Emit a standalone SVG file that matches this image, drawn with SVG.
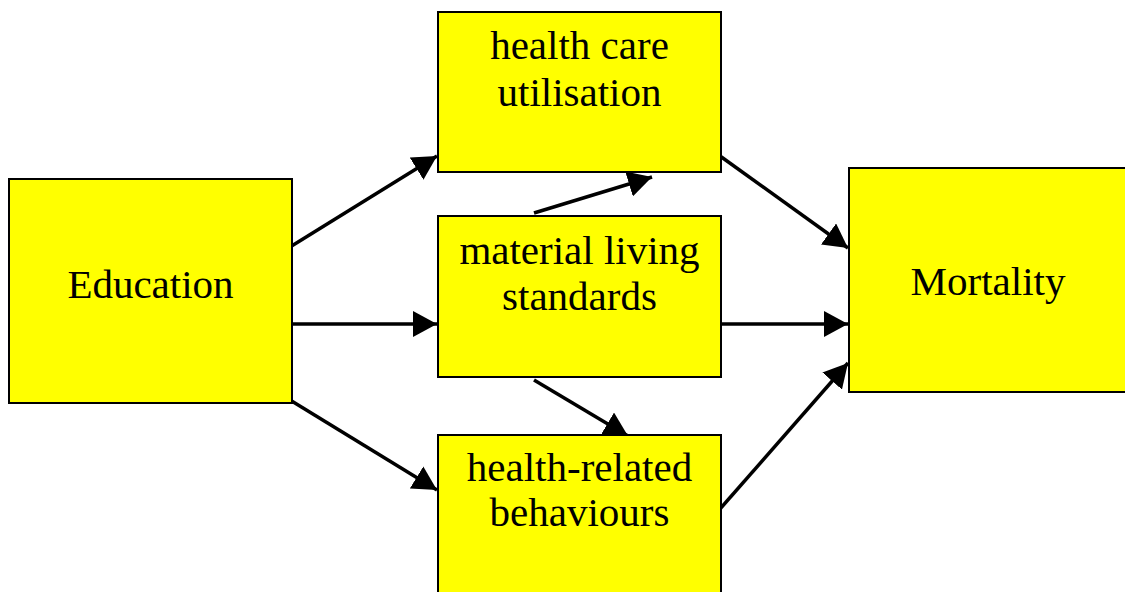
<svg xmlns="http://www.w3.org/2000/svg" width="1125" height="592" viewBox="0 0 1125 592">
<defs>
<style>
.box{fill:#ffff00;stroke:#000;stroke-width:2}
.lbl{font-family:"Liberation Serif","Times New Roman",serif;font-size:41px;fill:#000;text-anchor:middle}
.arr{stroke:#000;stroke-width:3.5;fill:none;marker-end:url(#ah)}
</style>
<marker id="ah" markerUnits="userSpaceOnUse" markerWidth="26" markerHeight="26" refX="24" refY="13" orient="auto">
<path d="M0,0 L24,13 L0,26 Z" fill="#000"/>
</marker>
</defs>
<rect width="1125" height="592" fill="#fff"/>
<g id="connectors">
<line class="arr" x1="290" y1="247" x2="437" y2="156"/>
<line class="arr" x1="290" y1="324" x2="437" y2="324"/>
<line class="arr" x1="290" y1="400" x2="437" y2="490"/>
<line class="arr" x1="534" y1="213" x2="652" y2="177"/>
<line class="arr" x1="534" y1="380" x2="628" y2="436"/>
<line class="arr" x1="720" y1="156" x2="848" y2="248"/>
<line class="arr" x1="720" y1="324" x2="848" y2="324"/>
<line class="arr" x1="720" y1="509" x2="848" y2="363"/>
</g>
<g id="education">
<rect class="box" x="9" y="179" width="283" height="224"/>
<text class="lbl" x="150.5" y="298">Education</text>
</g>
<g id="health-care-utilisation">
<rect class="box" x="438" y="12" width="283" height="160"/>
<text class="lbl" x="579.5" y="59">health care</text>
<text class="lbl" x="579.5" y="106">utilisation</text>
</g>
<g id="material-living-standards">
<rect class="box" x="438" y="216" width="283" height="161"/>
<text class="lbl" x="579.5" y="264">material living</text>
<text class="lbl" x="579.5" y="310">standards</text>
</g>
<g id="health-related-behaviours">
<rect class="box" x="438" y="435" width="283" height="170"/>
<text class="lbl" x="579.5" y="481">health-related</text>
<text class="lbl" x="579.5" y="526">behaviours</text>
</g>
<g id="mortality">
<rect class="box" x="849" y="168" width="278" height="224"/>
<text class="lbl" x="988" y="295">Mortality</text>
</g>
</svg>
